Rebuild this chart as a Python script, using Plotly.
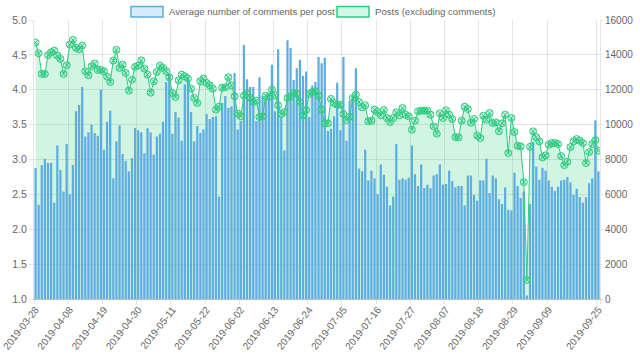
import plotly.graph_objects as go
import pandas as pd

dates = pd.date_range("2019-03-28", "2019-09-25").strftime("%Y-%m-%d").tolist()

tick_labels = ["2019-03-28", "2019-04-08", "2019-04-19", "2019-04-30", "2019-05-11",
               "2019-05-22", "2019-06-02", "2019-06-13", "2019-06-24", "2019-07-05",
               "2019-07-16", "2019-07-27", "2019-08-07", "2019-08-18", "2019-08-29",
               "2019-09-09", "2019-09-25"]

avg_comments = [
    2.88, 2.35, 2.92, 3.01, 2.95, 2.95, 2.38, 3.20, 2.85, 2.54, 3.22, 2.50, 2.92, 3.69, 3.78,
    4.04, 3.33, 3.39, 3.50, 3.38, 3.34, 4.00, 3.14, 3.54, 3.70, 2.73, 3.26, 3.49, 3.08, 2.98,
    2.83, 3.02, 3.45, 3.42, 3.39, 3.09, 3.45, 3.39, 3.07, 3.33, 3.37, 3.54, 4.11, 4.23, 3.37,
    3.68, 3.60, 3.27, 4.08, 4.18, 3.68, 3.26, 3.48, 3.38, 3.43, 3.65, 3.58, 3.61, 3.62, 2.47,
    3.81, 3.91, 3.74, 3.76, 4.24, 3.43, 3.55, 4.64, 4.15, 4.04, 4.04, 3.55, 4.18, 3.91, 3.89,
    3.94, 4.36, 3.69, 4.58, 3.62, 3.13, 4.71, 4.60, 4.14, 4.31, 4.43, 4.20, 4.26, 3.61, 4.06, 4.11,
    4.47, 4.38, 4.46, 3.41, 3.44, 3.62, 4.10, 3.42, 4.47, 3.27, 3.84, 3.91, 4.31, 2.87, 2.83,
    3.14, 2.70, 2.84, 2.73, 2.50, 2.93, 2.78, 2.61, 2.34, 2.47, 3.22, 2.71, 2.73, 2.71, 2.74,
    3.20, 2.79, 2.62, 2.93, 2.59, 2.64, 2.59, 2.77, 2.79, 2.93, 2.64, 2.65, 2.84, 2.69, 2.60,
    2.62, 2.62, 2.34, 2.77, 2.77, 2.49, 2.41, 2.70, 2.70, 3.01, 2.52, 2.77, 2.73, 2.43, 2.36,
    2.60, 2.28, 2.27, 2.81, 2.62, 2.45, 2.54, 1.05, 2.36, 3.25, 2.90, 2.71, 2.88, 2.84, 2.70,
    2.61, 2.55, 2.61, 2.70, 2.71, 2.75, 2.67, 2.49, 2.58, 2.46, 2.38, 2.46, 2.66, 2.73, 3.56, 2.83,
]

posts = [
    14707, 14094, 12907, 12907, 13979, 14152, 14248, 13960, 13769, 12907, 13405, 14592, 14860, 14401, 14324,
    14535, 13060, 12830, 13347, 13501, 13137, 13137, 13060, 12754, 12447, 13673, 14286, 13252, 13443, 12965,
    11950, 12582, 13309, 13386, 13692, 13214, 12869, 11835, 12485, 13022, 13386, 13252, 13060, 12716, 11815,
    11585, 12543, 12869, 12773, 12639, 12065, 11528, 11241, 12485, 12639, 12390, 12256, 12065, 10858, 11030, 12120,
    12141, 12716, 12256, 11624, 10628, 10475, 11662, 11815, 11528, 11298, 11375, 10437, 10475, 11662, 11585,
    12007, 11681, 11106, 10609, 10724, 11528, 11624, 11815, 11777, 11298, 10513, 10839, 11758, 11873, 11911,
    11662, 10858, 10073, 10073, 11471, 11241, 11145, 11145, 10609, 10264, 10456, 11528, 11720, 11298, 10992,
    11106, 10188, 10226, 10858, 10724, 10533, 10839, 10379, 10149, 10379, 10705, 10533, 10954, 10571, 10475,
    9709, 10226, 10762, 10801, 10801, 10801, 10571, 9900, 9479, 10648, 10379, 10820, 10571, 10322, 9287,
    9268, 10226, 11030, 10896, 10111, 10322, 9364, 9230, 10513, 10284, 10666, 10092, 10130, 9613, 10073,
    10571, 8368, 10379, 9574, 8790, 8752, 6703, 1092, 8732, 9613, 9268, 9039, 8120, 8234, 8847,
    8943, 8943, 8886, 8196, 7679, 7871, 8713, 9039, 9172, 9077, 8943, 7794, 8426, 8886, 9115, 8503,
]

left_ticks = [1.0, 1.5, 2.0, 2.5, 3.0, 3.5, 4.0, 4.5, 5.0]
right_ticks = [0, 2000, 4000, 6000, 8000, 10000, 12000, 14000, 16000]

BAR_COLOR = "rgb(93,173,226)"
LINE_COLOR = "rgb(46,204,128)"
FILL_COLOR = "rgba(46,204,128,0.22)"
GRID = "rgba(0,0,0,0.1)"
FONT = "Liberation Sans, Arial, sans-serif"
TXT = "#666666"

fig = go.Figure()
fig.add_trace(go.Scatter(x=dates, y=posts, yaxis="y", mode="none", fill="tozeroy",
                         fillcolor=FILL_COLOR, hoverinfo="skip", showlegend=False))
fig.add_trace(go.Bar(x=dates, y=avg_comments, yaxis="y2", marker=dict(color=BAR_COLOR, line=dict(width=0)),
                     showlegend=False))
fig.add_trace(go.Scatter(x=dates, y=posts, yaxis="y3", mode="lines+markers",
                         line=dict(color=LINE_COLOR, width=1),
                         marker=dict(symbol="circle-x", size=7, color="rgba(46,204,128,0.2)",
                                     line=dict(color=LINE_COLOR, width=1)),
                         showlegend=False))

fig.update_layout(
    width=640, height=361,
    margin=dict(l=34, r=40, t=20, b=62),
    paper_bgcolor="white", plot_bgcolor="white",
    font=dict(family=FONT, size=10, color=TXT),
    bargap=0.28,
    showlegend=False,
    xaxis=dict(type="category", tickmode="array", tickvals=tick_labels, ticktext=tick_labels,
               tickangle=-52, showgrid=True, gridcolor=GRID, tickson="boundaries",
               ticks="outside", ticklen=4, tickcolor=GRID, showline=True,
               linecolor="rgba(0,0,0,0.25)", automargin=False, range=[-0.5, 181.5],
               tickfont=dict(size=10, color=TXT)),
    yaxis=dict(side="right", range=[0, 16000], tickvals=right_ticks, tickformat="d",
               showgrid=True, gridcolor=GRID, zeroline=False, ticks="outside", ticklen=2,
               tickcolor=GRID, showline=True, linecolor=GRID, automargin=False,
               tickfont=dict(size=10, color=TXT)),
    yaxis2=dict(side="left", overlaying="y", range=[1, 5], tickvals=left_ticks, tickformat=".1f",
                showgrid=False, zeroline=False, ticks="outside", ticklen=4, tickcolor=GRID,
                showline=True, linecolor=GRID, automargin=False, tickfont=dict(size=10.5, color=TXT)),
    yaxis3=dict(overlaying="y", range=[0, 16000], visible=False),
)

# custom legend (Chart.js style wide boxes); positions in pixels of the 640x361 canvas
def px_x(p):
    return (p - 34) / 566.0

def px_y(p):
    return (299 - p) / 279.0

fig.add_shape(type="rect", xref="paper", yref="paper", x0=px_x(131), x1=px_x(163), y0=px_y(17), y1=px_y(6.5),
              line=dict(color="rgb(93,173,226)", width=1.5), fillcolor="rgba(54,162,235,0.2)")
fig.add_annotation(xref="paper", yref="paper", x=px_x(167), y=px_y(12), xanchor="left", yanchor="middle",
                   text="Average number of comments per post", showarrow=False,
                   font=dict(size=9.6, color=TXT, family=FONT))
fig.add_shape(type="rect", xref="paper", yref="paper", x0=px_x(337), x1=px_x(369), y0=px_y(17), y1=px_y(6.5),
              line=dict(color=LINE_COLOR, width=1.5), fillcolor="rgba(46,204,128,0.2)")
fig.add_annotation(xref="paper", yref="paper", x=px_x(373), y=px_y(12), xanchor="left", yanchor="middle",
                   text="Posts (excluding comments)", showarrow=False,
                   font=dict(size=9.6, color=TXT, family=FONT))

fig.write_html(
    "out.html",
    config={"displayModeBar": False},
    post_script="document.body.style.margin='0';document.body.style.overflow='hidden';"
                "document.documentElement.style.overflow='hidden';",
)
